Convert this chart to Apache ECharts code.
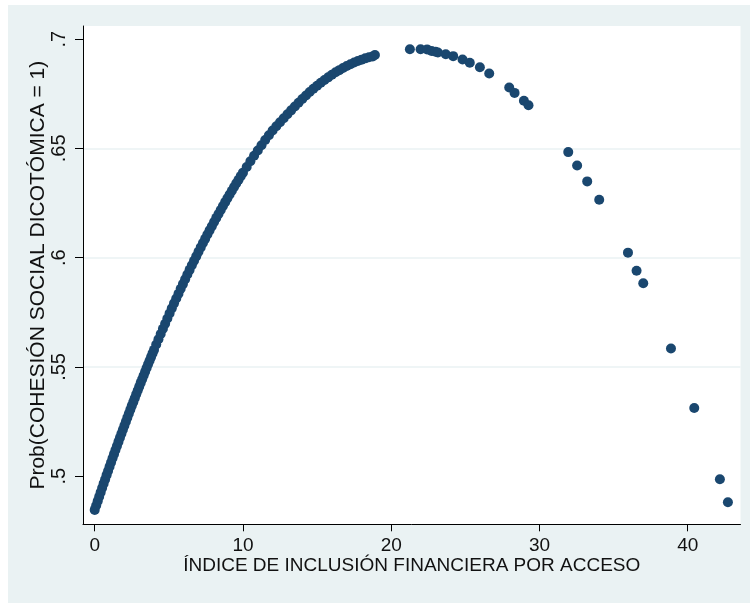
<!DOCTYPE html>
<html>
<head>
<meta charset="utf-8">
<script src="https://cdn.jsdelivr.net/npm/echarts@6/dist/echarts.min.js"></script>
<style>
html,body{margin:0;padding:0;background:#fff;}
#chart{width:750px;height:603px;}
</style>
</head>
<body>
<div id="chart"></div>
<script>
// Dense part of the fitted curve (index values 0 - 19)
var curveX = [0.0,0.1,0.2,0.3,0.4,0.5,0.6,0.7,0.8,0.9,1.0,1.1,1.2,1.3,1.4,1.5,1.6,1.7,1.8,1.9,2.0,2.1,2.2,2.3,2.4,2.5,2.6,2.7,2.8,2.9,3.0,3.1,3.2,3.3,3.4,3.5,3.6,3.7,3.8,3.9,4.0,
  4.15,4.3,4.45,4.6,4.75,4.9,5.05,5.2,5.35,5.5,5.65,5.8,5.95,6.1,6.25,6.4,6.55,6.7,6.85,7.0,7.15,7.3,7.45,7.6,7.75,7.9,8.05,8.2,8.35,8.5,8.65,8.8,8.95,9.1,9.25,9.4,9.55,9.7,9.85,10.0,
  10.25,10.5,10.75,11.0,11.25,11.5,11.75,12.0,12.25,12.5,12.75,13.0,13.25,13.5,13.75,14.0,14.25,14.5,14.75,15.0,15.25,15.5,15.75,16.0,16.25,16.5,16.75,17.0,17.25,17.5,17.75,18.0,18.25,18.5,18.75,18.9];
var curveY = [0.4846,0.4866,0.4886,0.4906,0.4926,0.4946,0.4966,0.4985,0.5005,0.5024,0.5043,0.5063,0.5082,0.5101,0.5120,0.5138,0.5157,0.5176,0.5194,0.5213,0.5231,0.5249,0.5268,0.5286,0.5304,0.5322,0.5339,0.5357,0.5375,0.5392,0.5409,0.5427,0.5444,0.5461,0.5478,0.5495,0.5512,0.5528,0.5545,0.5562,0.5578,
  0.5603,0.5627,0.5651,0.5675,0.5698,0.5722,0.5745,0.5768,0.5791,0.5813,0.5835,0.5858,0.5879,0.5901,0.5923,0.5944,0.5965,0.5986,0.6006,0.6027,0.6047,0.6067,0.6086,0.6106,0.6125,0.6144,0.6163,0.6182,0.6200,0.6218,0.6236,0.6254,0.6272,0.6289,0.6306,0.6323,0.6340,0.6356,0.6373,0.6389,
  0.6415,0.6441,0.6466,0.6490,0.6514,0.6538,0.6560,0.6582,0.6601,0.6620,0.6638,0.6656,0.6674,0.6692,0.6709,0.6726,0.6742,0.6758,0.6773,0.6787,0.6800,0.6813,0.6825,0.6837,0.6848,0.6858,0.6868,0.6877,0.6885,0.6893,0.6900,0.6906,0.6912,0.6917,0.6921,0.6927];
// Sparse observations (index values above 21)
var tailX = [21.26,21.98,22.42,22.72,22.99,23.15,23.68,24.18,24.81,25.30,25.98,26.61,27.96,28.32,28.95,29.26,31.94,32.54,33.22,34.03,35.97,36.55,37.00,38.87,40.44,42.17,42.71];
var tailY = [0.6954,0.6954,0.6953,0.6946,0.6942,0.6939,0.6931,0.6922,0.6907,0.6892,0.6871,0.6843,0.6779,0.6754,0.6718,0.6697,0.6483,0.6422,0.6349,0.6265,0.6023,0.5940,0.5883,0.5584,0.5312,0.4986,0.4881];

var xTicks = [0, 10, 20, 30, 40];
var yTicks = [0.5, 0.55, 0.6, 0.65, 0.7];
var xTitle = 'ÍNDICE DE INCLUSIÓN FINANCIERA POR ACCESO';
var yTitle = 'Prob(COHESIÓN SOCIAL DICOTÓMICA = 1)';

var points = [];
curveX.forEach(function (x, i) { points.push([x, curveY[i]]); });
tailX.forEach(function (x, i) { points.push([x, tailY[i]]); });

var FONT = '"Liberation Sans", Arial, sans-serif';
var chart = echarts.init(document.getElementById('chart'), null, {renderer: 'canvas'});
chart.setOption({
  animation: false,
  backgroundColor: '#ffffff',
  graphic: {
    elements: [{
      type: 'rect', z: -100, silent: true,
      shape: {x: 8, y: 5, width: 742, height: 598},
      style: {fill: '#EAF2F3'}
    }]
  },
  grid: {
    left: 83, right: 9.5, top: 26, bottom: 78.7,
    show: true, backgroundColor: '#ffffff', borderWidth: 0
  },
  xAxis: {
    type: 'value',
    min: -0.79, max: 43.56,
    name: xTitle,
    nameLocation: 'middle',
    nameGap: 32,
    nameMoveOverlap: false,
    nameTextStyle: {fontFamily: FONT, fontSize: 19, color: '#111'},
    axisLine: {show: true, onZero: false, lineStyle: {color: '#000', width: 1}},
    axisTick: {show: true, length: 7, lineStyle: {color: '#000'}, customValues: xTicks},
    axisLabel: {show: true, margin: 12, fontFamily: FONT, fontSize: 19, color: '#111', customValues: xTicks},
    splitLine: {show: false}
  },
  yAxis: {
    type: 'value',
    min: 0.478, max: 0.706,
    name: yTitle,
    nameLocation: 'middle',
    nameRotate: 90,
    nameGap: 34,
    nameMoveOverlap: false,
    nameTextStyle: {fontFamily: FONT, fontSize: 21, color: '#111'},
    axisLine: {show: true, onZero: false, lineStyle: {color: '#000', width: 1}},
    axisTick: {show: true, length: 8, lineStyle: {color: '#000'}, customValues: yTicks},
    axisLabel: {
      show: true, rotate: 90, margin: 14, fontFamily: FONT, fontSize: 20, color: '#111',
      customValues: yTicks,
      formatter: function (v) { return String(+v.toFixed(2)).replace(/^0\./, '.'); }
    },
    splitLine: {show: true, showMinLine: false, showMaxLine: false, lineStyle: {color: '#EAF2F3', width: 1.5}}
  },
  series: [{
    type: 'scatter',
    data: points,
    symbol: 'circle',
    symbolSize: 10,
    itemStyle: {color: '#1A476F', opacity: 1},
    silent: true
  }]
});
</script>
</body>
</html>
